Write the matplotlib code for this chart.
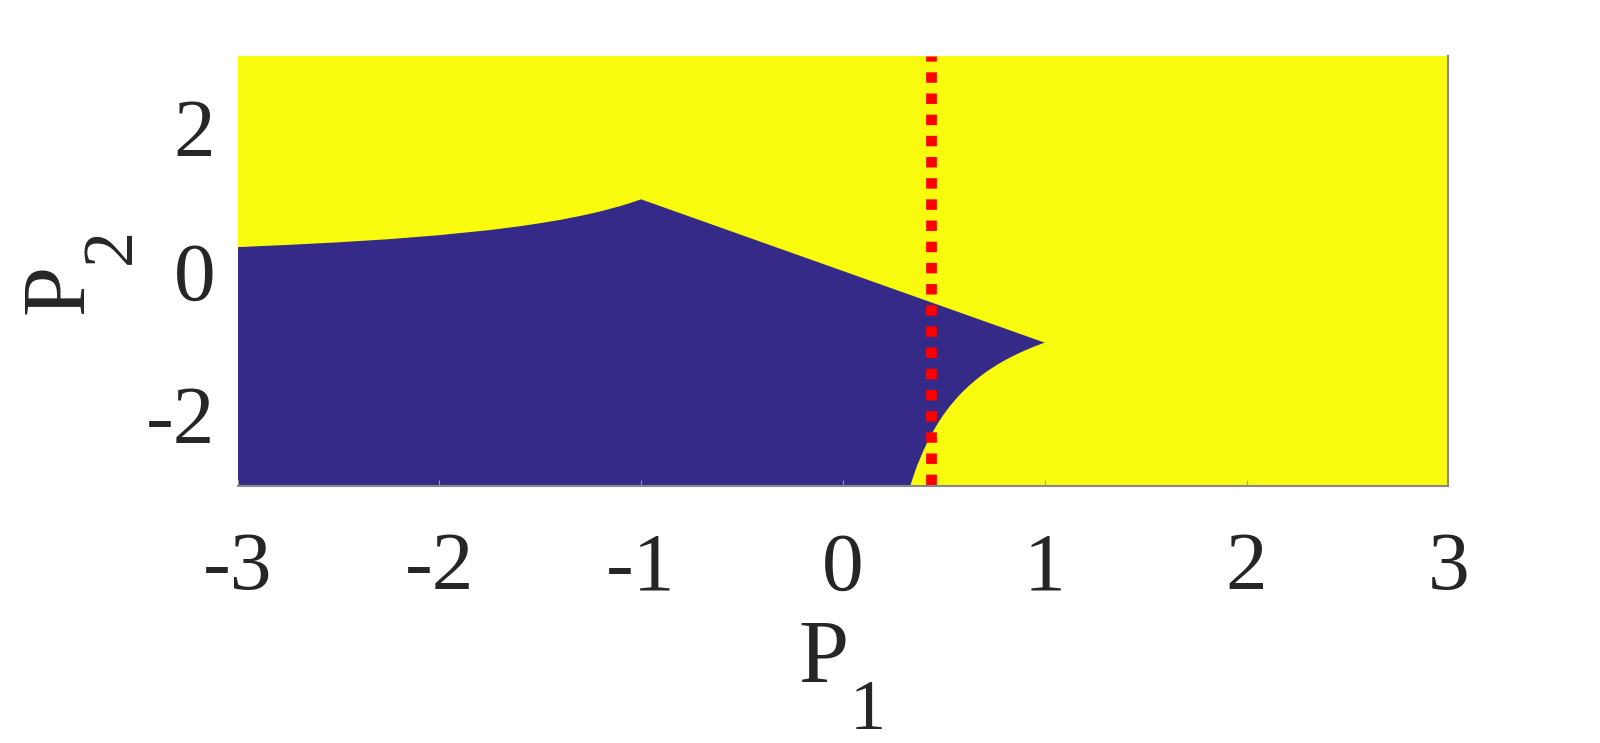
import numpy as np
import matplotlib
matplotlib.use("Agg")
import matplotlib.pyplot as plt

# region boundary
# upper edge of the blue region (left part), from x=-3 to the peak at x=-1
upper_x = [-3.0, -2.75, -2.5, -2.25, -2.0, -1.75, -1.6, -1.5, -1.4, -1.3, -1.25,
           -1.2, -1.15, -1.1, -1.05, -1.0]
upper_y = [0.333, 0.364, 0.40, 0.444, 0.50, 0.571, 0.625, 0.667, 0.714, 0.769, 0.80,
           0.833, 0.870, 0.909, 0.952, 1.0]
# straight edge from the peak down to the tip
tip_x, tip_y = 1.0, -1.0
# lower right edge, from the tip down to the bottom axis
lower_x = [1.0, 0.98, 0.952, 0.926, 0.909, 0.87, 0.833, 0.80, 0.769, 0.741, 0.714,
           0.69, 0.667, 0.625, 0.588, 0.556, 0.526, 0.50, 0.476, 0.455, 0.435,
           0.417, 0.40, 0.385, 0.37, 0.357, 0.345, 0.333]
lower_y = [-1.0, -1.02, -1.05, -1.08, -1.1, -1.15, -1.2, -1.25, -1.3, -1.35, -1.4,
           -1.45, -1.5, -1.6, -1.7, -1.8, -1.9, -2.0, -2.1, -2.2, -2.3,
           -2.4, -2.5, -2.6, -2.7, -2.8, -2.9, -3.0]

red_x = 0.435
xticks = [-3, -2, -1, 0, 1, 2, 3]
yticks = [-2, 0, 2]
xlim = (-3, 3)
ylim = (-3, 3)

yellow = "#F9FB0E"
blue = "#352A87"

plt.rcParams["font.family"] = ["Liberation Serif", "DejaVu Serif"]
plt.rcParams["axes.unicode_minus"] = False

W, H = 1600, 743
fig = plt.figure(figsize=(16, 7.43), dpi=100)
ax = fig.add_axes([237.5 / W, 1 - 486 / H, (1448.3 - 237.5) / W, (486 - 56) / H])
ax.set_facecolor(yellow)

# blue polygon
px = [xlim[0]] + upper_x + [tip_x] + lower_x[1:] + [xlim[0]]
py = [ylim[0]] + upper_y + [tip_y] + lower_y[1:] + [ylim[0]]
ax.fill(px, py, color=blue, lw=0)

ax.axvline(red_x, color="red", lw=7.7, linestyle=(1.85, (0.98, 1.0)))

ax.set_xlim(*xlim)
ax.set_ylim(*ylim)
ax.set_xticks(xticks)
ax.set_yticks(yticks)
ax.set_xticklabels([str(t) for t in xticks])
ax.set_yticklabels([str(t) for t in yticks])
ax.tick_params(direction="in", width=0.8, color="#999999",
               labelsize=60, labelcolor="#262626")
ax.tick_params(axis="x", length=4, pad=33)
ax.tick_params(axis="y", length=0, pad=16)

for s in ["top", "left"]:
    ax.spines[s].set_visible(False)
for s in ["bottom", "right"]:
    ax.spines[s].set_color("#888888")
    ax.spines[s].set_linewidth(1.5)

# axis labels, built as P + lowered subscript like the original
def ftext(x, y, s, size, rot=0):
    fig.text(x / W, 1 - y / H, s, fontsize=size, color="#262626",
             ha="left", va="baseline", rotation=rot, rotation_mode="anchor")

ftext(798.5, 683, "P", 65)
ftext(850, 729, "1", 52)
ftext(83, 314.5, "P", 65, rot=90)
ftext(130, 264, "2", 52, rot=90)

fig.savefig("out.png", dpi=100)
